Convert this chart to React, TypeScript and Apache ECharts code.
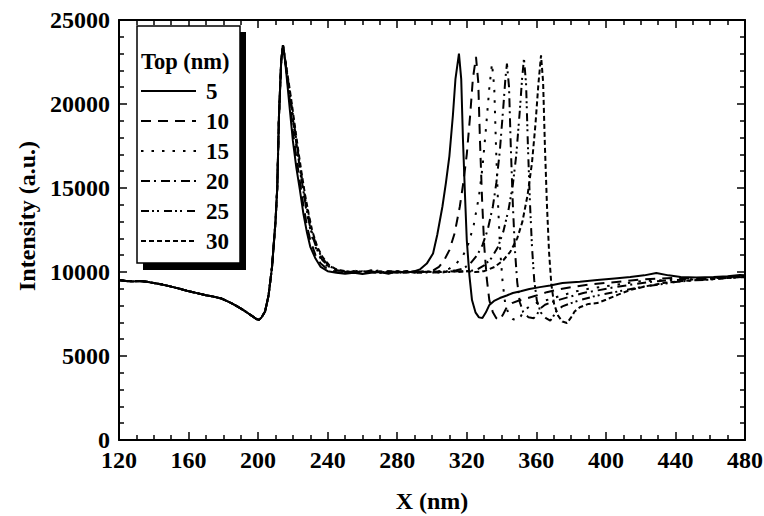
import React, { useEffect, useRef } from "react";
import * as echarts from "echarts";

const seriesNames = ["5", "10", "15", "20", "25", "30"];

// shared part up to the first peak (x nm, intensity)
const commonLeft: number[][] = [
  [120, 9520], [124, 9460], [128, 9440], [132, 9470], [136, 9420], [140, 9340],
  [145, 9250], [150, 9130], [155, 9000], [159, 8880], [164, 8760], [170, 8620],
  [175, 8520], [179, 8420], [184, 8180], [188, 7950], [192, 7700], [196, 7420],
  [199, 7200], [200.5, 7150], [202, 7300], [204, 7650], [206, 8600], [208, 10300],
  [210, 13000], [211, 15000], [212, 19300], [213.3, 22600], [214.3, 23500],
];

const s5: number[][] = [
  [215.5, 22600], [217, 21000], [218.3, 19600], [220, 17800], [222, 16200], [224, 14900],
  [226, 13500], [228, 12400], [230, 11500], [233, 10800], [236, 10300], [240, 10050],
  [245, 9950], [250, 9900], [255, 9950], [260, 9880], [265, 9950], [270, 10000],
  [275, 9900], [280, 10050], [285, 9950], [290, 10050], [293, 10150], [297, 10500],
  [300.6, 11100], [303, 12200], [306, 13900], [308, 15300], [310, 16900], [312, 19300],
  [313.5, 21500], [315.5, 23000], [316.8, 21500], [317.8, 17900], [319, 14500], [320, 11900],
  [321.5, 9800], [323, 8330], [325, 7600], [327, 7300], [329, 7260], [331, 7600],
  [333, 8040], [336, 8300], [339, 8450], [343, 8600], [346.5, 8750], [351, 8850],
  [356, 8990], [362, 9100], [368, 9200], [375, 9340], [385, 9420], [395, 9520],
  [405, 9620], [414, 9700], [422, 9800], [429, 9940], [436, 9800], [443, 9700],
  [452, 9680], [462, 9700], [470, 9750], [477, 9820], [480, 9800],
];

const s10: number[][] = [
  [215.5, 22700], [217, 21300], [218.5, 20000], [220, 18400], [222, 16800], [224, 15400],
  [226, 14000], [228, 12800], [230, 11900], [233, 11000], [236, 10500], [240, 10150],
  [245, 10000], [250, 9950], [255, 10050], [260, 9950], [265, 10050], [270, 9950],
  [275, 10000], [280, 9900], [285, 10050], [290, 9950], [295, 10000], [300, 10050],
  [304, 10300], [307, 10700], [310, 11300], [313, 12300], [316, 13900], [318, 15300],
  [320, 17000], [322, 19400], [323.5, 21500], [325.3, 22800], [326.6, 21300], [327.6, 17800],
  [328.8, 14300], [330, 11600], [331.5, 9600], [333, 8300], [335, 7600], [337, 7250],
  [339, 7150], [341, 7500], [343, 7900], [346, 8150], [350, 8300], [355, 8450],
  [360, 8600], [366, 8800], [372, 8950], [380, 9100], [390, 9250], [400, 9350],
  [410, 9450], [420, 9550], [430, 9600], [440, 9650], [450, 9600], [460, 9650],
  [470, 9700], [480, 9750],
];

const s15: number[][] = [
  [215.5, 22500], [217, 21400], [219, 19800], [221, 18300], [223, 16800], [225, 15400],
  [227, 14100], [229, 13000], [231, 12100], [234, 11200], [237, 10600], [241, 10250],
  [245, 10100], [250, 10000], [255, 10100], [260, 9950], [265, 10000], [270, 10100],
  [275, 9950], [280, 10050], [285, 10000], [290, 9950], [295, 10050], [300, 10000],
  [305, 10050], [310, 10200], [314, 10500], [318, 11000], [321, 11700], [324, 12800],
  [327, 14500], [329, 16200], [331, 18500], [333, 21000], [334.5, 22400], [335.8, 21000],
  [336.8, 17500], [338, 14000], [339.2, 11300], [340.6, 9400], [342, 8200], [344, 7500],
  [346.5, 7200], [349, 7100], [351, 7350], [353, 7700], [356, 7950], [360, 8150],
  [365, 8300], [370, 8450], [376, 8650], [383, 8850], [390, 9000], [400, 9150],
  [410, 9300], [420, 9450], [430, 9500], [440, 9550], [450, 9550], [460, 9600],
  [470, 9650], [480, 9700],
];

const s20: number[][] = [
  [215.5, 22600], [217, 21500], [219, 19900], [221, 18400], [223, 16900], [225, 15500],
  [227, 14200], [229, 13100], [231, 12200], [234, 11300], [237, 10700], [241, 10300],
  [245, 10100], [250, 10050], [255, 9950], [260, 10050], [265, 9950], [270, 10050],
  [275, 10000], [280, 9950], [285, 10050], [290, 10000], [295, 9950], [300, 10050],
  [305, 10000], [310, 10050], [314, 10100], [318, 10200], [322, 10500], [326, 11000],
  [329, 11600], [332, 12500], [335, 13900], [337, 15300], [339, 17200], [341, 19800],
  [342.2, 21500], [343.1, 22400], [344.3, 21000], [345.3, 17500], [346.5, 14000], [347.7, 11300],
  [349, 9400], [350.5, 8200], [352.5, 7600], [355.5, 7300], [358.5, 7250], [360.5, 7500],
  [362.5, 7850], [365, 8050], [370, 8250], [375, 8400], [380, 8550], [387, 8750],
  [395, 8900], [405, 9100], [415, 9250], [425, 9400], [435, 9500], [445, 9550],
  [455, 9600], [465, 9650], [480, 9700],
];

const s25: number[][] = [
  [215.5, 22600], [217, 21600], [219, 20100], [221, 18600], [223, 17100], [225, 15700],
  [227, 14400], [229, 13300], [231, 12400], [234, 11400], [237, 10800], [241, 10350],
  [245, 10150], [250, 10000], [255, 10050], [260, 9950], [265, 10100], [270, 9950],
  [275, 10050], [280, 10000], [285, 9950], [290, 10050], [295, 10000], [300, 9950],
  [305, 10050], [310, 10000], [315, 10050], [320, 10050], [325, 10100], [330, 10400],
  [334, 10800], [338, 11500], [341, 12400], [344, 13700], [346.5, 15200], [348.5, 17000],
  [350.5, 19600], [351.8, 21500], [352.9, 22700], [354.1, 21200], [355.1, 17700], [356.3, 14200],
  [357.5, 11500], [358.8, 9500], [360.3, 8300], [362.5, 7600], [365.5, 7250], [368, 7100],
  [370, 7400], [372, 7750], [375, 7950], [380, 8150], [386, 8350], [393, 8550],
  [400, 8700], [410, 8900], [420, 9100], [430, 9250], [440, 9400], [450, 9500],
  [460, 9550], [470, 9650], [480, 9700],
];

const s30: number[][] = [
  [215.5, 22700], [217, 21700], [219, 20300], [221, 18800], [223, 17300], [225, 15900],
  [227, 14600], [229, 13500], [231, 12500], [234, 11500], [237, 10900], [241, 10400],
  [245, 10150], [250, 10050], [255, 9950], [260, 10050], [265, 10000], [270, 9950],
  [275, 10050], [280, 10000], [285, 10050], [290, 9950], [295, 10050], [300, 10000],
  [305, 9950], [310, 10050], [315, 10000], [320, 10050], [325, 10000], [330, 10050],
  [336, 10300], [341, 10700], [345, 11200], [349, 12000], [352, 13000], [355, 14600],
  [357.5, 16500], [359.5, 18800], [361.2, 21200], [362.7, 22900], [363.9, 21300], [364.9, 17600],
  [366.1, 14000], [367.3, 11200], [368.6, 9300], [370.2, 8100], [372.5, 7400], [375, 7050],
  [377.6, 6960], [380, 7300], [382, 7650], [385, 7900], [390, 8100], [395, 8150],
  [400, 8350], [407, 8650], [414, 8930], [423, 9150], [433, 9340], [442, 9450],
  [452, 9520], [462, 9580], [470, 9650], [477, 9700], [480, 9750],
];

const seriesData = [s5, s10, s15, s20, s25, s30];
const dashTypes: any[] = [
  "solid",
  [10, 7],
  [2.5, 8],
  [9, 4, 2, 5],
  [8, 3, 2, 3, 2, 5],
  [5, 3],
];

const FONT = "'Liberation Serif', 'Times New Roman', serif";

export default function App() {
  const ref = useRef<HTMLDivElement>(null);
  useEffect(() => {
    const chart = echarts.init(ref.current!, null, { renderer: "svg" });
    const labelStyle = {
      fontFamily: FONT,
      fontWeight: "bold" as const,
      fontSize: 24,
      color: "#000",
    };
    const plain = (v: number) => String(v);
    const axisCommon = (showLabel: boolean) => ({
      axisLine: { show: true, onZero: false, lineStyle: { color: "#000", width: 2 } },
      axisTick: { show: true, inside: true, length: 8, lineStyle: { color: "#000", width: 1.5 } },
      splitLine: { show: false },
      axisLabel: showLabel ? { ...labelStyle, formatter: plain } : { show: false },
    });
    const xMinor = { show: true, splitNumber: 4, length: 5, lineStyle: { color: "#000", width: 1.5 } };
    const yMinor = { show: true, splitNumber: 5, length: 5, lineStyle: { color: "#000", width: 1.5 } };
    const option: any = {
      animation: false,
      backgroundColor: "#fff",
      grid: { left: 119, right: 19, top: 20, bottom: 76, containLabel: false, outerBoundsMode: "none" },
      xAxis: [
        {
          type: "value",
          min: 120,
          max: 480,
          interval: 40,
          position: "bottom",
          ...axisCommon(true),
          minorTick: xMinor,
          axisLabel: { ...labelStyle, margin: 11, lineHeight: 18, formatter: plain },
          name: "X (nm)",
          nameLocation: "middle",
          nameGap: 50,
          nameTextStyle: { ...labelStyle, lineHeight: 22 },
        },
        {
          type: "value",
          min: 120,
          max: 480,
          interval: 40,
          position: "top",
          ...axisCommon(false),
          minorTick: xMinor,
        },
      ],
      yAxis: [
        {
          type: "value",
          min: 0,
          max: 25000,
          interval: 5000,
          position: "left",
          ...axisCommon(true),
          minorTick: yMinor,
          axisLabel: { ...labelStyle, margin: 9, lineHeight: 16, formatter: plain },
          name: "Intensity (a.u.)",
          nameLocation: "middle",
          nameGap: 69,
          nameTextStyle: { ...labelStyle, padding: [0, 0, 0, 28] },
        },
        {
          type: "value",
          min: 0,
          max: 25000,
          interval: 5000,
          position: "right",
          ...axisCommon(false),
          minorTick: yMinor,
        },
      ],
      legend: {
        data: seriesNames,
        orient: "vertical",
        left: 140,
        top: 76,
        padding: 0,
        itemGap: 0,
        itemWidth: 55,
        itemHeight: 14,
        selectedMode: false,
        z: 100,
        itemStyle: { opacity: 0 },
        textStyle: {
          fontFamily: FONT,
          fontWeight: "bold",
          fontSize: 23,
          color: "#000",
          lineHeight: 30,
          padding: [0, 0, 0, 5],
        },
      },
      graphic: [
        {
          type: "rect",
          z: 50,
          shape: { x: 143, y: 32, width: 103, height: 238 },
          style: { fill: "#000" },
        },
        {
          type: "rect",
          z: 51,
          shape: { x: 137, y: 26, width: 103, height: 237 },
          style: { fill: "#fff", stroke: "#000", lineWidth: 1.5 },
        },
        {
          type: "text",
          z: 52,
          x: 141,
          y: 61,
          style: {
            text: "Top (nm)",
            fontFamily: FONT,
            fontWeight: "bold",
            fontSize: 22.5,
            fill: "#000",
            align: "left",
            verticalAlign: "middle",
          },
        },
      ],
      series: seriesNames.map((name, i) => ({
        name,
        type: "line",
        xAxisIndex: 0,
        yAxisIndex: 0,
        symbol: "none",
        showSymbol: false,
        data: [...commonLeft, ...seriesData[i]],
        lineStyle: { color: "#000", width: 2, type: dashTypes[i] },
        itemStyle: { color: "#000" },
        z: 2,
      })),
    };
    chart.setOption(option);
    return () => chart.dispose();
  }, []);
  return (
    <div
      ref={ref}
      style={{ position: "fixed", left: 0, top: 0, width: 764, height: 516 }}
    />
  );
}
